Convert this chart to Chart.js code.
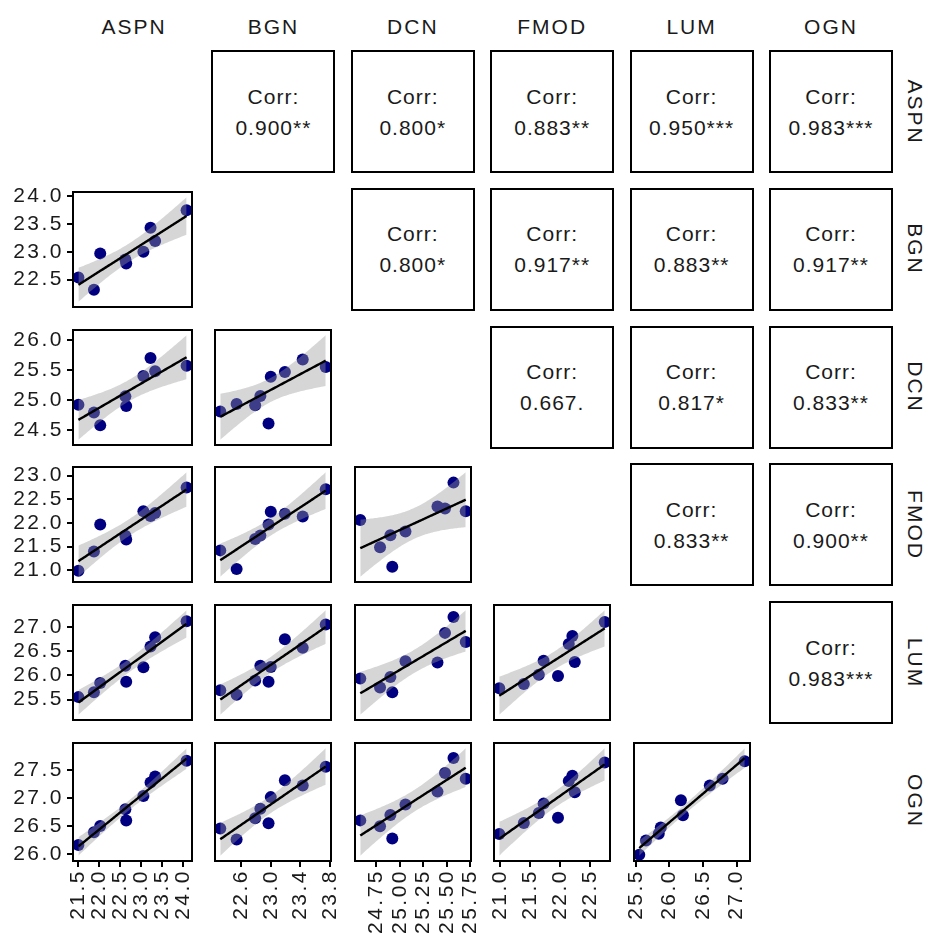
<!DOCTYPE html>
<html>
<head>
<meta charset="utf-8">
<script src="https://cdn.jsdelivr.net/npm/chart.js@4.4.1/dist/chart.umd.min.js"></script>
<style>
    body { margin: 0; background: #fff; }
    #wrap { position: relative; width: 932px; height: 933px; font-family: "Liberation Sans", Arial, sans-serif; color: #1a1a1a; }
    canvas { position: absolute; }
    .strip-top { position: absolute; top: 15px; width: 122px; text-align: center; font-size: 21px; letter-spacing: 2px; }
    .strip-right { position: absolute; width: 122px; text-align: center; font-size: 21px; letter-spacing: 2px;
                   transform: rotate(90deg); transform-origin: center center; }
    .corr { position: absolute; box-sizing: border-box; border: 2px solid #000; display: flex; flex-direction: column;
            justify-content: center; align-items: center; font-size: 21px; line-height: 31px; letter-spacing: 1px; }
</style>
</head>
<body>
<div id="wrap"></div>
<script>
// variables and the nine samples
const varNames = ['ASPN', 'BGN', 'DCN', 'FMOD', 'LUM', 'OGN'];
const ASPN = [21.50, 21.87, 22.02, 22.62, 22.64, 23.05, 23.22, 23.33, 24.08];
const BGN  = [22.54, 22.32, 22.97, 22.86, 22.79, 23.00, 23.43, 23.19, 23.74];
const DCN  = [24.92, 24.79, 24.58, 25.06, 24.90, 25.40, 25.70, 25.48, 25.57];
const FMOD = [20.99, 21.40, 21.97, 21.73, 21.65, 22.25, 22.15, 22.21, 22.75];
const LUM  = [25.55, 25.65, 25.84, 26.20, 25.87, 26.17, 26.60, 26.79, 27.12];
const OGN  = [26.16, 26.39, 26.50, 26.80, 26.60, 27.04, 27.28, 27.39, 27.67];

// upper triangle labels, row by row
const corrLabels = [
    '0.900**', '0.800*', '0.883**', '0.950***', '0.983***',
    '0.800*', '0.917**', '0.883**', '0.917**',
    '0.667.', '0.817*', '0.833**',
    '0.833**', '0.900**',
    '0.983***'
];

// tick labels
const xTicks = [
    [21.5, 22.0, 22.5, 23.0, 23.5, 24.0],
    [22.6, 23.0, 23.4, 23.8],
    [24.75, 25.00, 25.25, 25.50, 25.75],
    [21.0, 21.5, 22.0, 22.5],
    [25.5, 26.0, 26.5, 27.0]
];
const xDigits = [1, 1, 2, 1, 1];
const yTicks = [
    [],
    [22.5, 23.0, 23.5, 24.0],
    [24.5, 25.0, 25.5, 26.0],
    [21.0, 21.5, 22.0, 22.5, 23.0],
    [25.5, 26.0, 26.5, 27.0],
    [26.0, 26.5, 27.0, 27.5]
];

const series = [ASPN, BGN, DCN, FMOD, LUM, OGN];

const PW = 122, PH = 121;
const colLeft = c => 73 + c * 139.4;
const rowTop = r => 51 + r * 137.8;
const T975 = 2.364624; // t quantile, 7 df

Chart.defaults.font.family = '"Liberation Sans", Arial, sans-serif';

const wrap = document.getElementById('wrap');

// lm fit + 95% band, like geom_smooth(method = "lm")
function lmBand(xs, ys) {
    const n = xs.length;
    const mx = xs.reduce((a, b) => a + b, 0) / n;
    const my = ys.reduce((a, b) => a + b, 0) / n;
    let sxx = 0, sxy = 0;
    xs.forEach((x, i) => { sxx += (x - mx) ** 2; sxy += (x - mx) * (ys[i] - my); });
    const b = sxy / sxx, a = my - b * mx;
    let sse = 0;
    xs.forEach((x, i) => { sse += (ys[i] - a - b * x) ** 2; });
    const s = Math.sqrt(sse / (n - 2));
    const lo = Math.min(...xs), hi = Math.max(...xs);
    const fit = [], upper = [], lower = [];
    for (let k = 0; k < 80; k++) {
        const x = lo + (hi - lo) * k / 79;
        const yh = a + b * x;
        const se = s * Math.sqrt(1 / n + (x - mx) ** 2 / sxx);
        fit.push({ x, y: yh });
        upper.push({ x, y: yh + T975 * se });
        lower.push({ x, y: yh - T975 * se });
    }
    return { fit, upper, lower };
}

function expand(lo, hi) {
    const d = (hi - lo) * 0.05;
    return [lo - d, hi + d];
}

const framePlugin = {
    id: 'frame',
    beforeDraw(chart) {
        chart.ctx.letterSpacing = '2.5px';
    },
    afterDatasetsDraw(chart) {
        const { ctx, chartArea: a } = chart;
        ctx.save();
        ctx.strokeStyle = '#000';
        ctx.lineWidth = 2;
        ctx.strokeRect(a.left, a.top, a.right - a.left, a.bottom - a.top);
        ctx.restore();
    }
};

function noPad(axis) {
    axis.paddingLeft = 0;
    axis.paddingRight = 0;
    axis.paddingTop = 0;
    axis.paddingBottom = 0;
}

function makePanel(r, c) {
    const xs = series[c], ys = series[r];
    const band = lmBand(xs, ys);
    const [xmin, xmax] = expand(Math.min(...xs), Math.max(...xs));
    const [ymin, ymax] = expand(
        Math.min(...ys, ...band.lower.map(p => p.y)),
        Math.max(...ys, ...band.upper.map(p => p.y))
    );

    const pad = 3;
    const leftW = c === 0 ? 73 : pad;
    const botH = r === 5 ? 75 : pad;
    const canvas = document.createElement('canvas');
    canvas.width = PW + leftW + pad;
    canvas.height = PH + pad + botH;
    canvas.style.left = (colLeft(c) - leftW) + 'px';
    canvas.style.top = (rowTop(r) - pad) + 'px';
    wrap.appendChild(canvas);

    const tickFont = { size: 21 };
    new Chart(canvas, {
        type: 'scatter',
        data: {
            datasets: [
                {
                    type: 'line', data: band.fit, borderColor: '#000', borderWidth: 2.4,
                    pointRadius: 0, fill: false, order: 0
                },
                {
                    type: 'line', data: band.upper, borderWidth: 0, pointRadius: 0,
                    fill: { target: 2 }, backgroundColor: 'rgba(153,153,153,0.4)', order: 1
                },
                {
                    type: 'line', data: band.lower, borderWidth: 0, pointRadius: 0,
                    fill: false, order: 2
                },
                {
                    data: xs.map((x, i) => ({ x, y: ys[i] })),
                    pointRadius: 6, backgroundColor: '#000080', borderWidth: 0, order: 3
                }
            ]
        },
        options: {
            responsive: false,
            animation: false,
            devicePixelRatio: 1,
            layout: { padding: { left: c === 0 ? 0 : pad, right: pad, top: pad, bottom: r === 5 ? 0 : pad } },
            plugins: { legend: { display: false }, tooltip: { enabled: false } },
            scales: {
                x: {
                    type: 'linear', min: xmin, max: xmax, display: r === 5,
                    grid: { drawOnChartArea: false, drawTicks: true, tickLength: 6, color: '#000', lineWidth: 2 },
                    border: { display: false },
                    ticks: {
                        autoSkip: false, minRotation: 90, maxRotation: 90, padding: 2,
                        color: '#1a1a1a', font: tickFont,
                        callback: v => Number(v).toFixed(xDigits[c])
                    },
                    afterBuildTicks: axis => {
                        axis.ticks = (xTicks[c] || []).filter(v => v >= axis.min - 1e-9 && v <= axis.max + 1e-9)
                            .map(v => ({ value: v }));
                    },
                    afterFit: axis => { axis.height = botH; noPad(axis); }
                },
                y: {
                    type: 'linear', min: ymin, max: ymax, display: c === 0,
                    grid: { drawOnChartArea: false, drawTicks: true, tickLength: 6, color: '#000', lineWidth: 2 },
                    border: { display: false },
                    ticks: {
                        autoSkip: false, padding: 3, color: '#1a1a1a', font: tickFont,
                        callback: v => Number(v).toFixed(1)
                    },
                    afterBuildTicks: axis => {
                        axis.ticks = yTicks[r].filter(v => v >= axis.min - 1e-9 && v <= axis.max + 1e-9)
                            .map(v => ({ value: v }));
                    },
                    afterFit: axis => { axis.width = leftW; noPad(axis); }
                }
            }
        },
        plugins: [framePlugin]
    });
}

// strips
varNames.forEach((name, i) => {
    const top = document.createElement('div');
    top.className = 'strip-top';
    top.textContent = name;
    top.style.left = colLeft(i) + 'px';
    wrap.appendChild(top);

    const right = document.createElement('div');
    right.className = 'strip-right';
    right.textContent = name;
    right.style.left = (915 - PW / 2) + 'px';
    right.style.top = (rowTop(i) + PH / 2 - 12) + 'px';
    wrap.appendChild(right);
});

// panels
let k = 0;
for (let r = 0; r < 6; r++) {
    for (let c = 0; c < 6; c++) {
        if (r > c) {
            makePanel(r, c);
        } else if (c > r) {
            const box = document.createElement('div');
            box.className = 'corr';
            box.style.left = (colLeft(c) - 1) + 'px';
            box.style.top = (rowTop(r) - 1) + 'px';
            box.style.width = (PW + 2) + 'px';
            box.style.height = (PH + 2) + 'px';
            box.innerHTML = '<div>Corr:</div><div>' + corrLabels[k++] + '</div>';
            wrap.appendChild(box);
        }
    }
}
</script>
</body>
</html>
